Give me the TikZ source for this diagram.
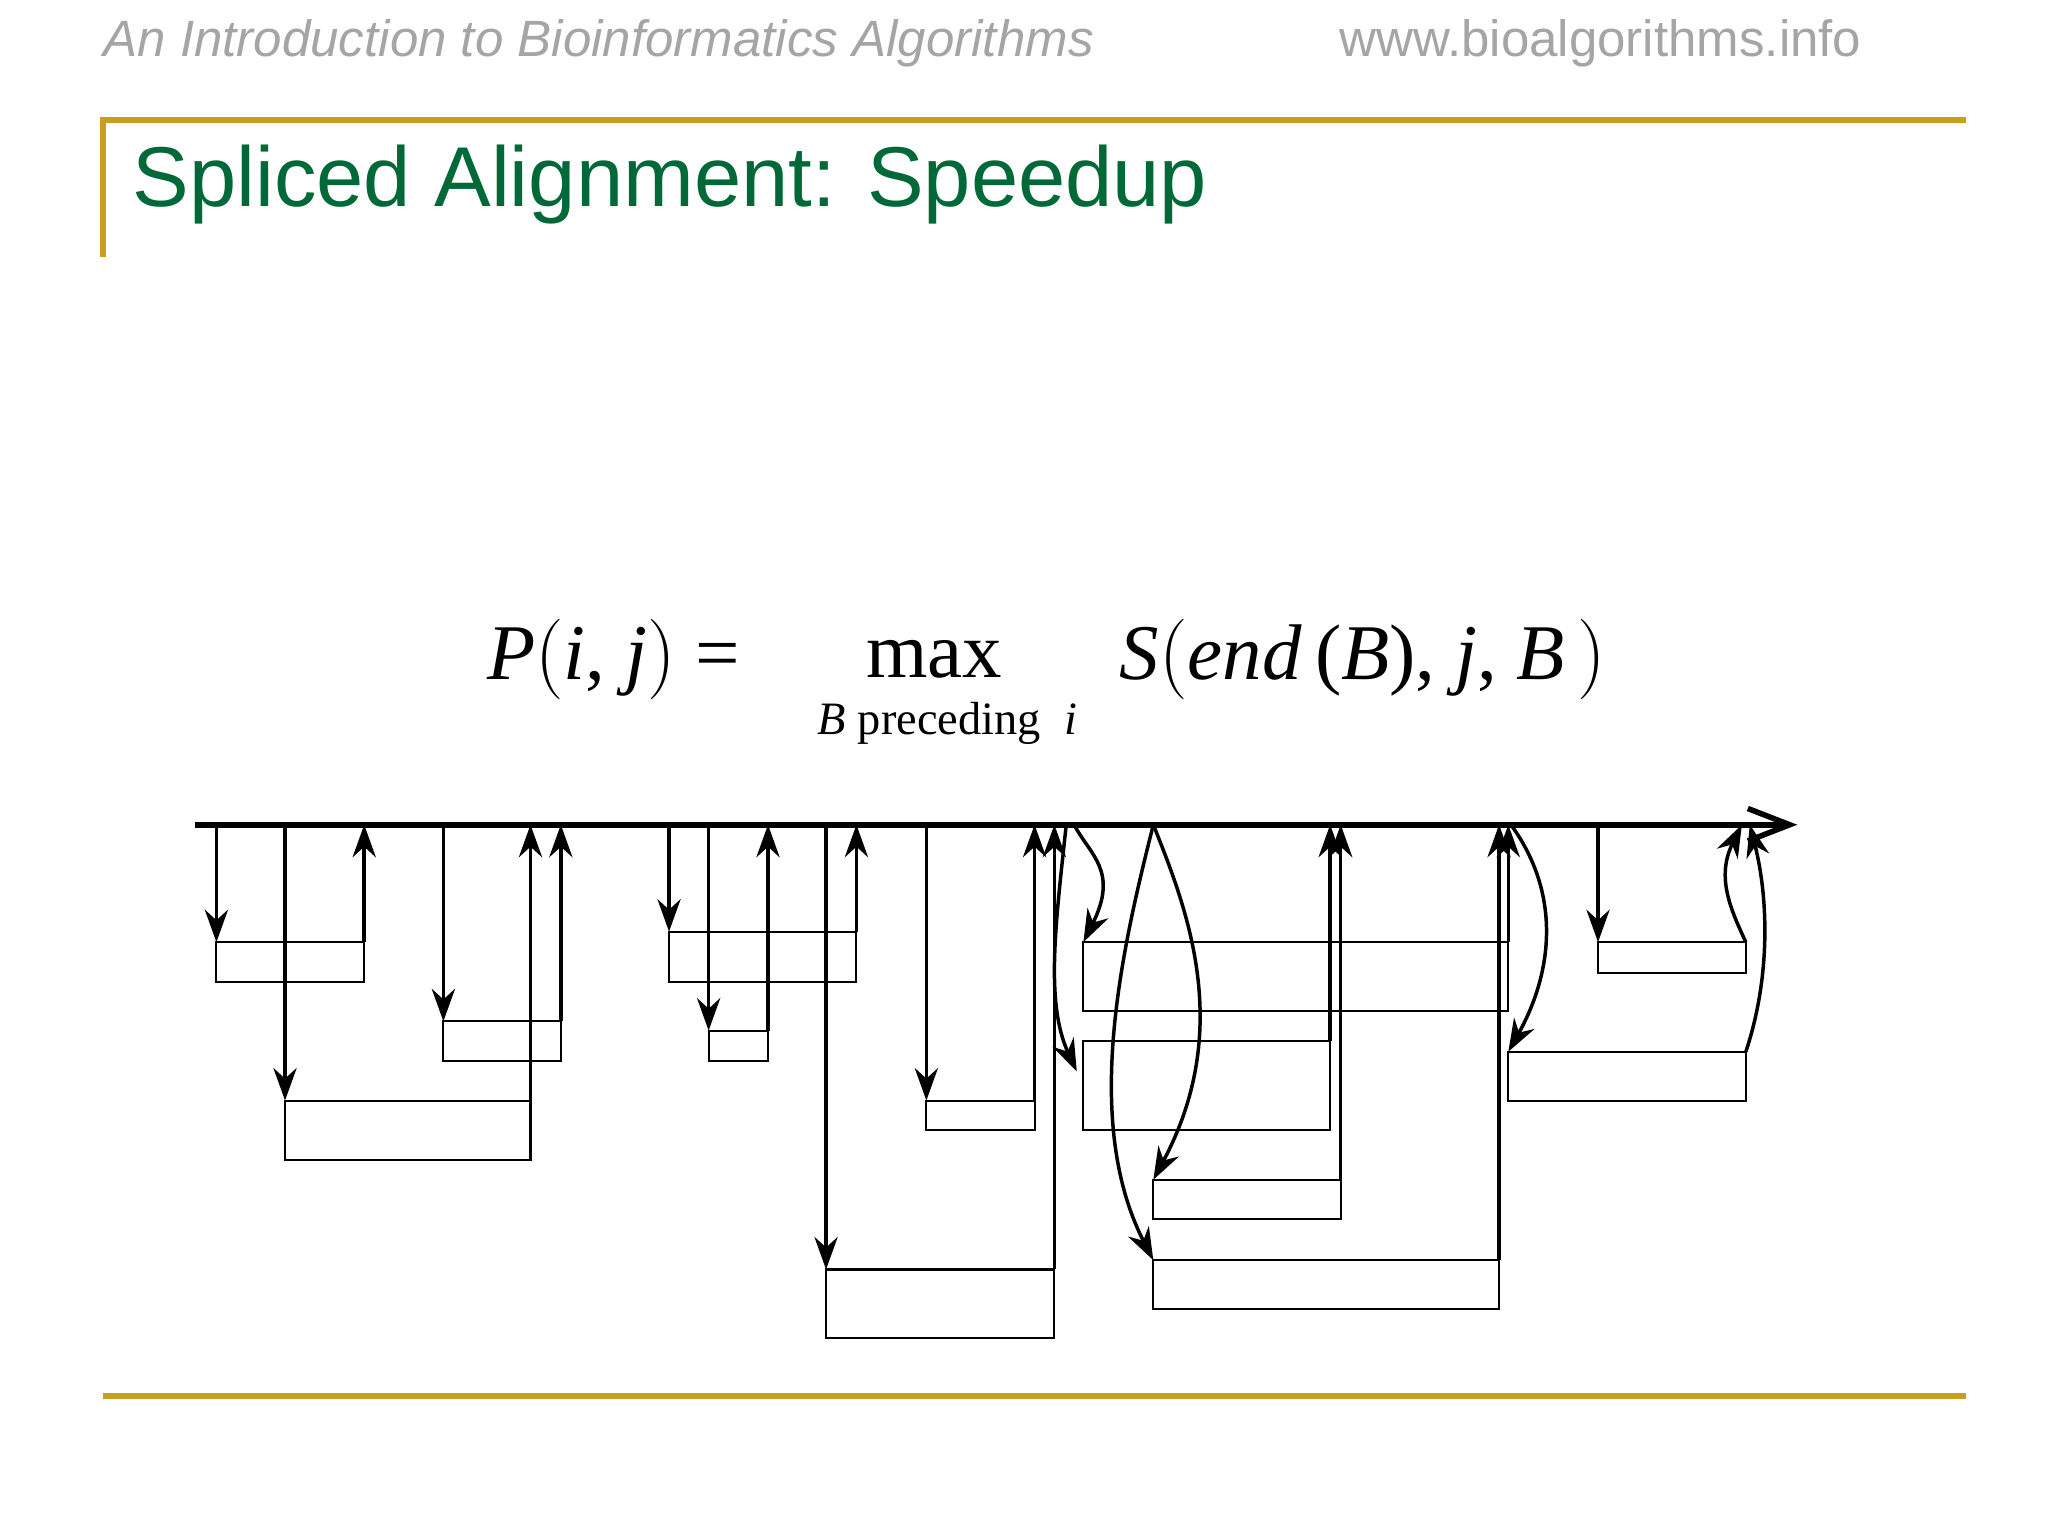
\documentclass[tikz,border=0pt]{standalone}
\usepackage{fontspec}
\setmainfont{Liberation Serif}
\newfontfamily\hdr{Liberation Sans}
\usetikzlibrary{arrows.meta}
\definecolor{gold}{RGB}{200,160,30}
\definecolor{ttl}{RGB}{0,105,55}
\definecolor{hgray}{RGB}{165,165,165}
\tikzset{
 ar/.style={line width=0.75pt,-{Stealth[length=7pt,width=5pt]}},
 bx/.style={line width=0.45pt},
 gl/.style={gold,line width=1.3pt}
}
\begin{document}
\begin{tikzpicture}[x=0.01cm,y=-0.01cm]
\useasboundingbox (0,0) rectangle (1552,1164);
\node[anchor=west,hgray,font=\hdr\itshape\fontsize{11}{13}\selectfont] (h1) at (66,33) {An Introduction to Bioinformatics Algorithms};
\node[anchor=east,hgray,font=\hdr\fontsize{11}{13}\selectfont] (h2) at (1423,33) {www.bioalgorithms.info};
\draw[gl] (78,195) -- (78,91) -- (1490,91);
\draw[gl] (78,1058) -- (1490,1058);
\node[anchor=west,ttl,font=\hdr\fontsize{18.3}{22}\selectfont] (t) at (88,140) {Spliced Alignment: Speedup};
\node[font=\fontsize{17}{20}\selectfont] (f1) at (465,500)
 {\textit{P}$\Bigl($\textit{i}, \textit{j}$\Bigr)$ = };
\node[font=\fontsize{17}{20}\selectfont] (f2) at (708,500) {max};
\node[font=\fontsize{10}{12}\selectfont] (f3) at (718,548) {\textit{B} preceding \ \textit{i}};
\node[font=\fontsize{17}{20}\selectfont] (f4) at (1033,500)
 {\textit{S}$\Bigl($\textit{end}\,(\textit{B}), \textit{j}, \textit{B}\,$\Bigr)$};
% axis
\coordinate (a0) at (148,625); \coordinate (a1) at (1362,625);
\draw[line width=1.2pt,-{Straight Barb[length=9pt,width=7pt]}] (a0) -- (a1);
% boxes: name, left, right, top, bottom
\foreach \n/\l/\r/\t/\b in {b1/164/276/714/744, b2/216/402/834/879, b3/336/425/774/804,
  b4/507/649/706/744, b5/537/582/781/804, b6/702/784/834/856, b7/626/799/962/1014,
  b8/821/1143/714/766, b9/821/1008/789/856, b10/874/1016/894/924, b11/874/1136/955/992,
  b12/1143/1323/797/834, b13/1211/1323/714/737}{
  \coordinate (\n tl) at (\l,\t); \coordinate (\n tr) at (\r,\t);
  \coordinate (\n ta) at (\l,625); \coordinate (\n ra) at (\r,625);
  \draw[bx] (\l,\t) rectangle (\r,\b);
}
% straight arrows
\foreach \n in {b1,b2,b3,b4,b5,b6,b7,b13}{\draw[ar] (\n ta) -- (\n tl);}
\foreach \n in {b1,b2,b3,b4,b5,b6,b7,b8,b9,b10,b11}{\draw[ar] (\n tr) -- (\n ra);}
% curved arrows
\coordinate (c8) at (814,625); \coordinate (c9) at (808,625);
\coordinate (c10) at (874,625); \coordinate (c11) at (874,625);
\coordinate (c12) at (1145,625); \coordinate (c13) at (1320,625); \coordinate (c14) at (1326,625);
\draw[ar] (c8) .. controls (826,648) and (848,660) .. (b8tl);
\draw[ar] (c9) .. controls (800,700) and (792,760) .. (816,812);
\draw[ar] (c10) .. controls (900,690) and (935,780) .. (b10tl);
\draw[ar] (c11) .. controls (850,720) and (820,850) .. (b11tl);
\draw[ar] (c12) .. controls (1185,680) and (1175,740) .. (b12tl);
\draw[ar] (b13tr) .. controls (1312,690) and (1300,665) .. (c13);
\draw[ar] (b12tr) .. controls (1342,740) and (1340,680) .. (c14);
\end{tikzpicture}
\end{document}
